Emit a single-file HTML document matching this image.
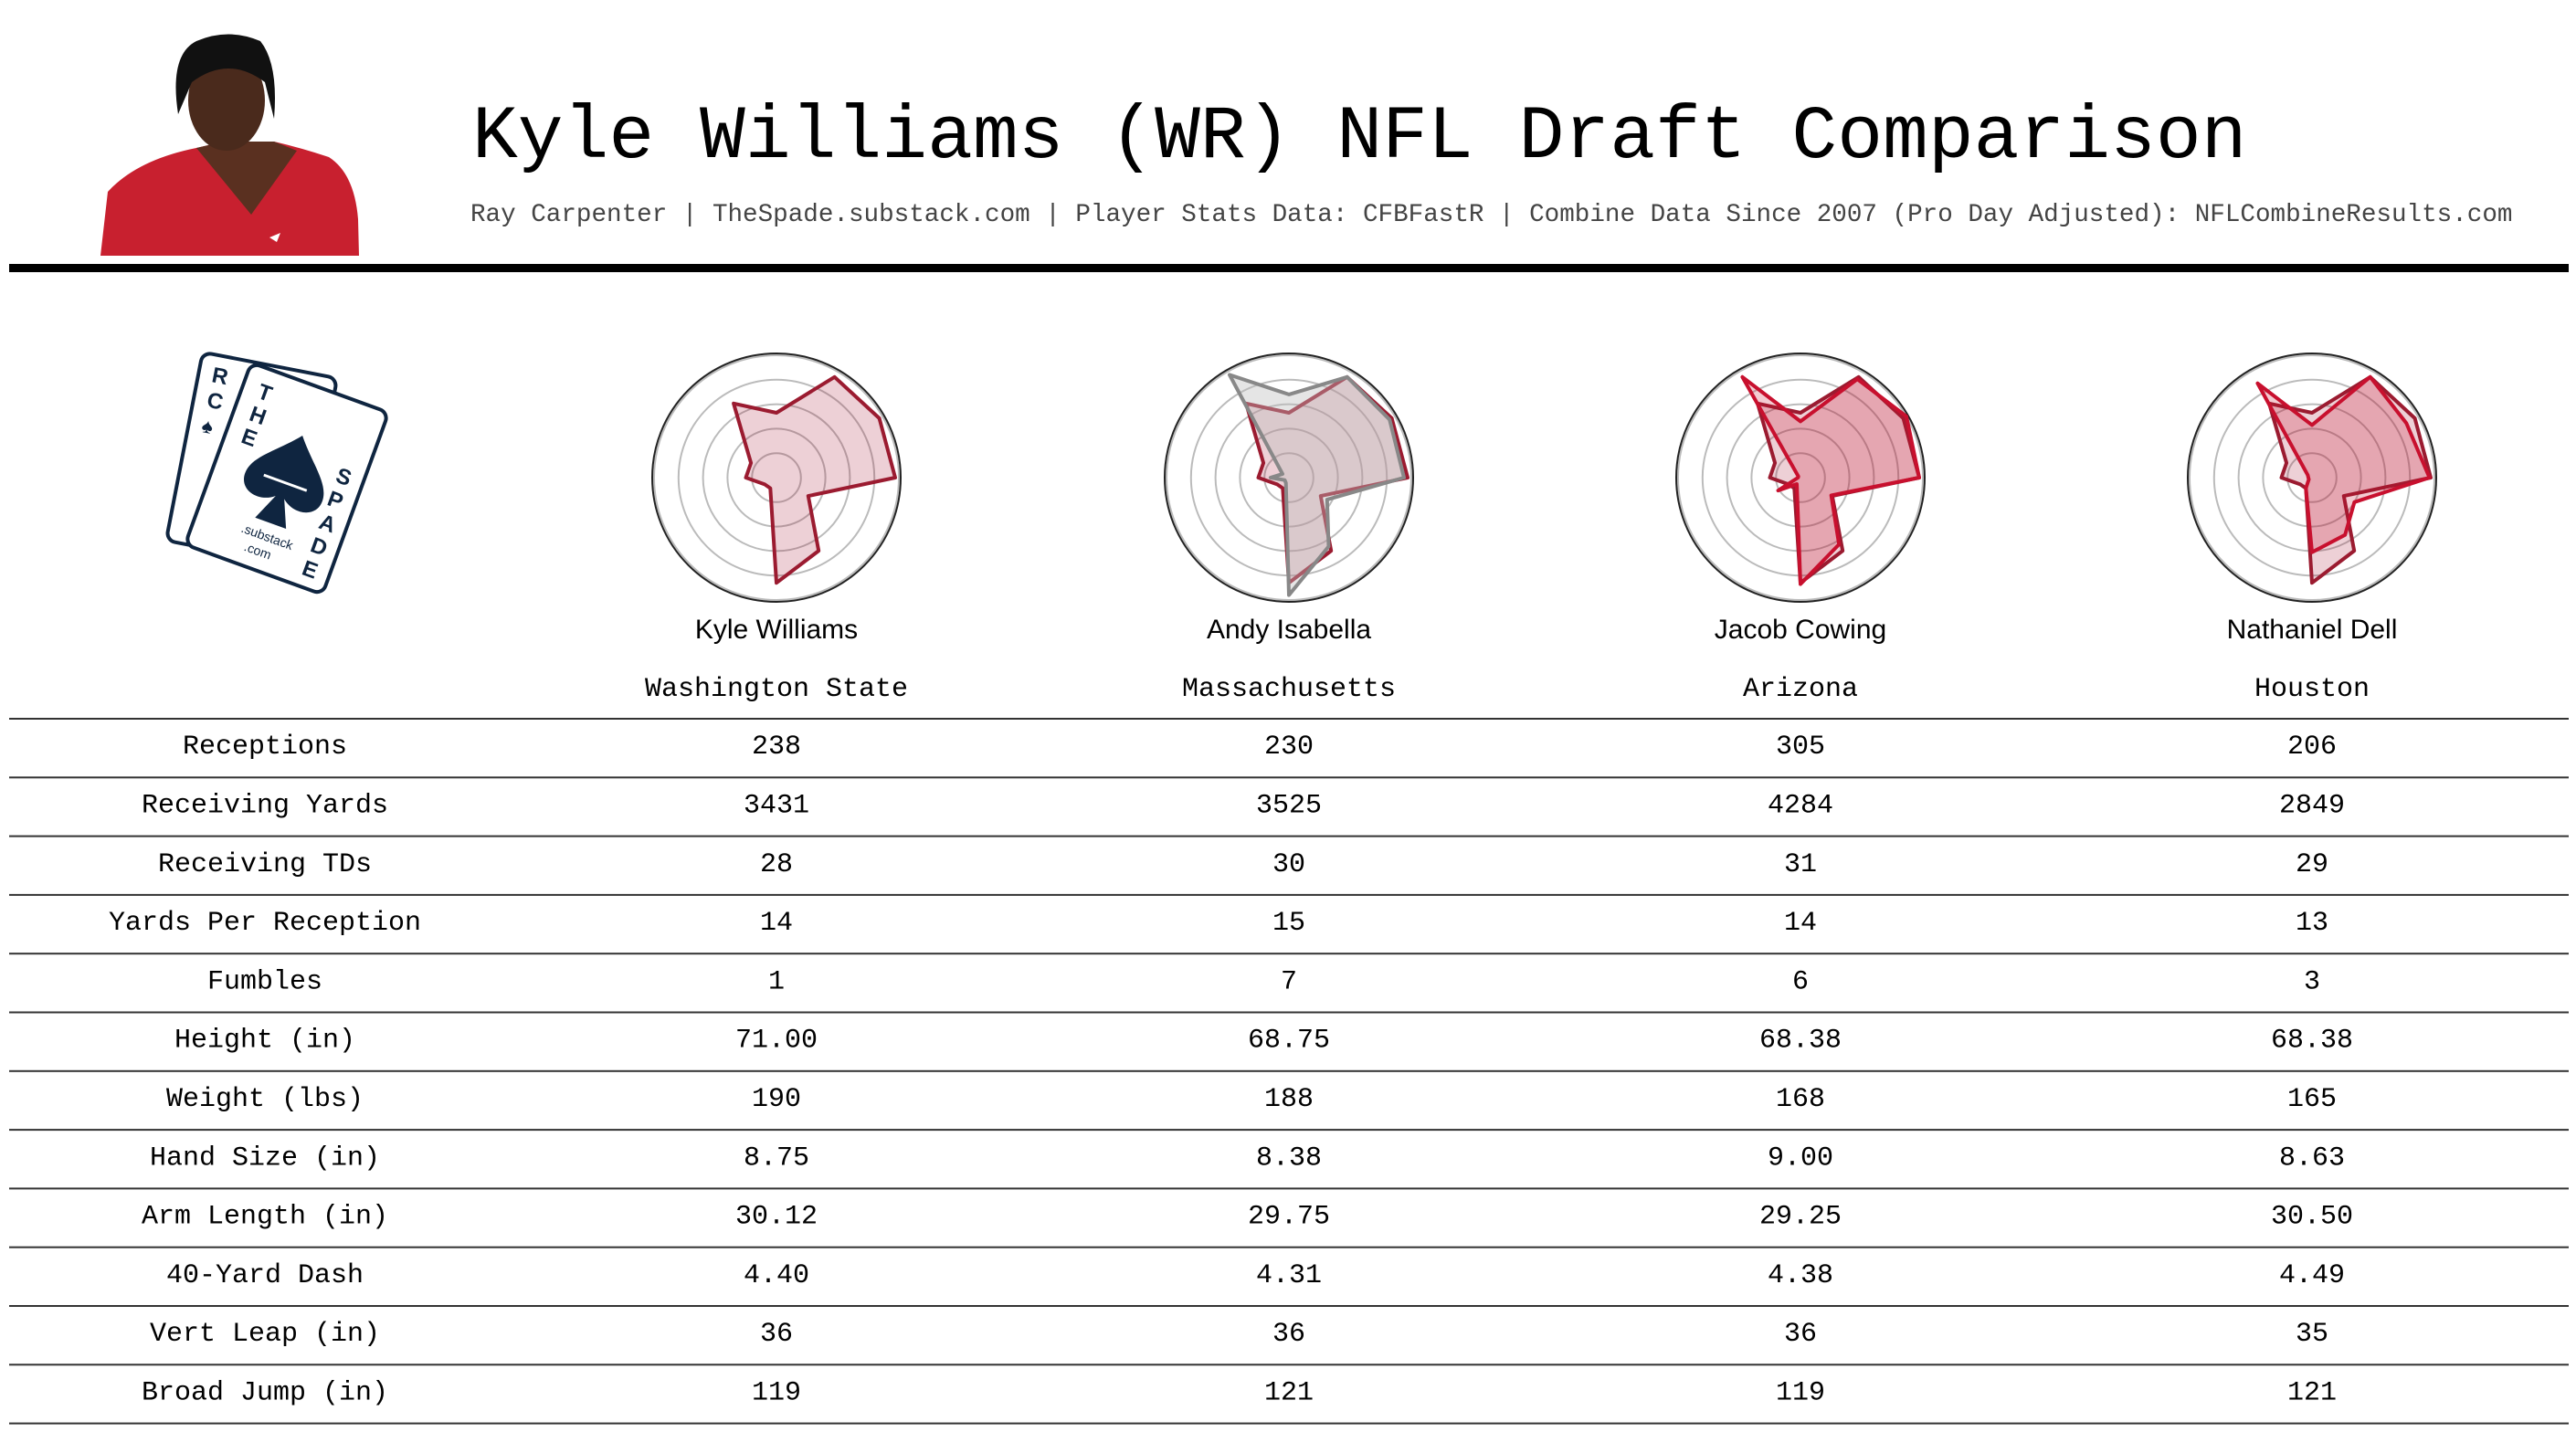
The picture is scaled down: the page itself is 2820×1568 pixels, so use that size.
<!DOCTYPE html>
<html><head><meta charset="utf-8"><style>
html,body{margin:0;padding:0;background:#fff;}
body{width:2820px;height:1568px;position:relative;overflow:hidden;font-family:"Liberation Mono",monospace;}
.abs{position:absolute;}
</style></head><body>
<svg class="abs" style="left:0;top:0" width="2820" height="1568" id="svg">
  <g>
    <path d="M110 280 L118 210 Q150 175 215 162 L245 155 L300 155 Q330 162 360 172 Q388 190 392 240 L393 280 Z" fill="#c8202f"/>
    <path d="M215 162 L245 155 L300 155 L325 165 L275 235 Z" fill="#5a3020"/>
    <ellipse cx="248" cy="110" rx="42" ry="55" fill="#4a2a1c"/>
    <path d="M195 125 Q185 60 215 45 Q250 30 285 45 Q305 70 300 130 L290 90 Q250 60 210 90 Z" fill="#111"/>
    <path d="M295 260 l12 -5 l-4 10 z" fill="#fff"/>
  </g>
  <text x="517" y="172" font-family="Liberation Mono, monospace" font-size="83" fill="#000">Kyle Williams (WR) NFL Draft Comparison</text>
  <text x="515" y="242" font-family="Liberation Mono, monospace" font-size="27.6" fill="#444">Ray Carpenter | TheSpade.substack.com | Player Stats Data: CFBFastR | Combine Data Since 2007 (Pro Day Adjusted): NFLCombineResults.com</text>
  <rect x="10" y="289" width="2802" height="9" fill="#000"/>
  <g fill="none" stroke="#0f2540" stroke-width="4">
    <g transform="translate(270,505) rotate(11)">
      <rect x="-70" y="-108" width="150" height="210" rx="10" fill="#fff"/>
      <text x="-55" y="-78" font-family="Liberation Sans, sans-serif" font-weight="bold" font-size="24" fill="#0f2540" stroke="none">R</text>
      <text x="-55" y="-50" font-family="Liberation Sans, sans-serif" font-weight="bold" font-size="24" fill="#0f2540" stroke="none">C</text>
      <text x="-56" y="-22" font-size="22" fill="#0f2540" stroke="none">♠</text>
    </g>
    <g transform="translate(314,524) rotate(20)">
      <rect x="-80" y="-106" width="160" height="212" rx="10" fill="#fff"/>
      <text x="-62" y="-72" font-family="Liberation Sans, sans-serif" font-weight="bold" font-size="24" fill="#0f2540" stroke="none">T</text>
      <text x="-62" y="-46" font-family="Liberation Sans, sans-serif" font-weight="bold" font-size="24" fill="#0f2540" stroke="none">H</text>
      <text x="-62" y="-20" font-family="Liberation Sans, sans-serif" font-weight="bold" font-size="24" fill="#0f2540" stroke="none">E</text>
      <text x="50" y="-15" font-family="Liberation Sans, sans-serif" font-weight="bold" font-size="24" fill="#0f2540" stroke="none">S</text>
      <text x="50" y="12" font-family="Liberation Sans, sans-serif" font-weight="bold" font-size="24" fill="#0f2540" stroke="none">P</text>
      <text x="50" y="39" font-family="Liberation Sans, sans-serif" font-weight="bold" font-size="24" fill="#0f2540" stroke="none">A</text>
      <text x="50" y="66" font-family="Liberation Sans, sans-serif" font-weight="bold" font-size="24" fill="#0f2540" stroke="none">D</text>
      <text x="50" y="93" font-family="Liberation Sans, sans-serif" font-weight="bold" font-size="24" fill="#0f2540" stroke="none">E</text>
      <path d="M0 -50 C-20 -25 -45 -10 -45 10 C-45 30 -20 35 -5 22 L-18 52 L18 52 L5 22 C20 35 45 30 45 10 C45 -10 20 -25 0 -50 Z" fill="#0f2540" stroke="none"/>
      <line x1="-25" y1="5" x2="25" y2="5" stroke="#fff" stroke-width="3"/>
      <text x="-28" y="72" font-family="Liberation Sans, sans-serif" font-size="14" fill="#0f2540" stroke="none">.substack</text>
      <text x="-18" y="90" font-family="Liberation Sans, sans-serif" font-size="14" fill="#0f2540" stroke="none">.com</text>
    </g>
  </g>
  <g id="radars"></g>
  <g id="table"></g>
</svg>
<script>
const statNames = ["Receptions","Receiving Yards","Receiving TDs","Yards Per Reception","Fumbles","Height (in)","Weight (lbs)","Hand Size (in)","Arm Length (in)","40-Yard Dash","Vert Leap (in)","Broad Jump (in)"];
const players = ["Kyle Williams","Andy Isabella","Jacob Cowing","Nathaniel Dell"];
const schools = ["Washington State","Massachusetts","Arizona","Houston"];
const kyleStats = ["238","3431","28","14","1","71.00","190","8.75","30.12","4.40","36","119"];
const andyStats = ["230","3525","30","15","7","68.75","188","8.38","29.75","4.31","36","121"];
const jacobStats = ["305","4284","31","14","6","68.38","168","9.00","29.25","4.38","36","119"];
const nateStats = ["206","2849","29","13","3","68.38","165","8.63","30.50","4.49","35","121"];
// radar percentiles (axis order counter-clockwise from right)
const kylePct = [0.97,0.97,0.95,0.53,0.70,0.24,0.25,0.11,0.10,0.86,0.69,0.30];
const andyPct = [0.94,0.95,0.95,0.68,0.97,0.06,0.15,0.04,0.05,0.96,0.65,0.36];
const jacobPct = [0.97,1.00,0.93,0.46,0.95,0.02,0.02,0.21,0.06,0.87,0.63,0.29];
const natePct = [0.96,0.89,0.95,0.43,0.89,0.04,0.03,0.03,0.10,0.61,0.54,0.40];

const NS="http://www.w3.org/2000/svg";
const colX=[850,1411,1971,2531];
const cy=523, R=134;
function rad(v){return v*R;}
function pts(cx,arr){return arr.map((v,i)=>{const a=i*Math.PI*2/arr.length;return (cx+rad(v)*Math.cos(a)).toFixed(1)+","+(cy-rad(v)*Math.sin(a)).toFixed(1);}).join(" ");}
const rg=document.getElementById("radars");
const comps=[[null,"#ddd"],[andyPct,"#888"],[jacobPct,"#c8102e"],[natePct,"#c8102e"]];
const compFill=["","rgba(190,190,190,0.4)","rgba(200,16,46,0.22)","rgba(200,16,46,0.22)"];
players.forEach((p,k)=>{
  const cx=colX[k];
  const g=document.createElementNS(NS,"g");
  
  
  [0.2,0.4,0.6,0.8,1.0].forEach(r=>{const c=document.createElementNS(NS,"circle");c.setAttribute("cx",cx);c.setAttribute("cy",cy);c.setAttribute("r",rad(r));c.setAttribute("fill","none");c.setAttribute("stroke","#bbb");c.setAttribute("stroke-width","2");
    
    
    g.appendChild(c);});
  const o=document.createElementNS(NS,"circle");o.setAttribute("cx",cx);o.setAttribute("cy",cy);o.setAttribute("r",R+2);o.setAttribute("fill","none");o.setAttribute("stroke","#222");o.setAttribute("stroke-width","2");
  
  
  g.appendChild(o);
  const kp=document.createElementNS(NS,"polygon");kp.setAttribute("points",pts(cx,kylePct));kp.setAttribute("fill","rgba(165,20,50,0.2)");kp.setAttribute("stroke","#9b1b30");kp.setAttribute("stroke-width","4");kp.setAttribute("stroke-linejoin","round");
  
  
  g.appendChild(kp);
  if(comps[k][0]){const cp=document.createElementNS(NS,"polygon");cp.setAttribute("points",pts(cx,comps[k][0]));cp.setAttribute("fill",compFill[k]);cp.setAttribute("stroke",comps[k][1]);cp.setAttribute("stroke-width","4");cp.setAttribute("stroke-linejoin","round");
    
    
    g.appendChild(cp);}
  const t=document.createElementNS(NS,"text");t.setAttribute("x",cx);t.setAttribute("y",699);t.setAttribute("text-anchor","middle");t.setAttribute("font-family","Liberation Sans, sans-serif");t.setAttribute("font-size","30");t.textContent=p;
  
  
  g.appendChild(t);
  const s=document.createElementNS(NS,"text");s.setAttribute("x",cx);s.setAttribute("y",762);s.setAttribute("text-anchor","middle");s.setAttribute("font-family","Liberation Mono, monospace");s.setAttribute("font-size","30");s.textContent=schools[k];
  
  
  g.appendChild(s);
  rg.appendChild(g);
});
const tg=document.getElementById("table");
const top0=787, rowH=64.3;
const allStats=[kyleStats,andyStats,jacobStats,nateStats];
for(let i=0;i<=12;i++){
  const l=document.createElementNS(NS,"rect");l.setAttribute("x",10);l.setAttribute("y",top0+i*rowH-1);l.setAttribute("width",2802);l.setAttribute("height",2);l.setAttribute("fill","#333");
  
  
  tg.appendChild(l);
}
statNames.forEach((n,i)=>{
  const y=top0+i*rowH+rowH/2+6;
  const t=document.createElementNS(NS,"text");t.setAttribute("x",290);t.setAttribute("y",y);t.setAttribute("text-anchor","middle");t.setAttribute("font-size","30");t.setAttribute("font-family","Liberation Mono, monospace");t.textContent=n;
  
  
  tg.appendChild(t);
  allStats.forEach((arr,k)=>{
    const v=document.createElementNS(NS,"text");v.setAttribute("x",colX[k]);v.setAttribute("y",y);v.setAttribute("text-anchor","middle");v.setAttribute("font-size","30");v.setAttribute("font-family","Liberation Mono, monospace");v.textContent=arr[i];
    
    
    tg.appendChild(v);
  });
});
</script>
</body></html>
